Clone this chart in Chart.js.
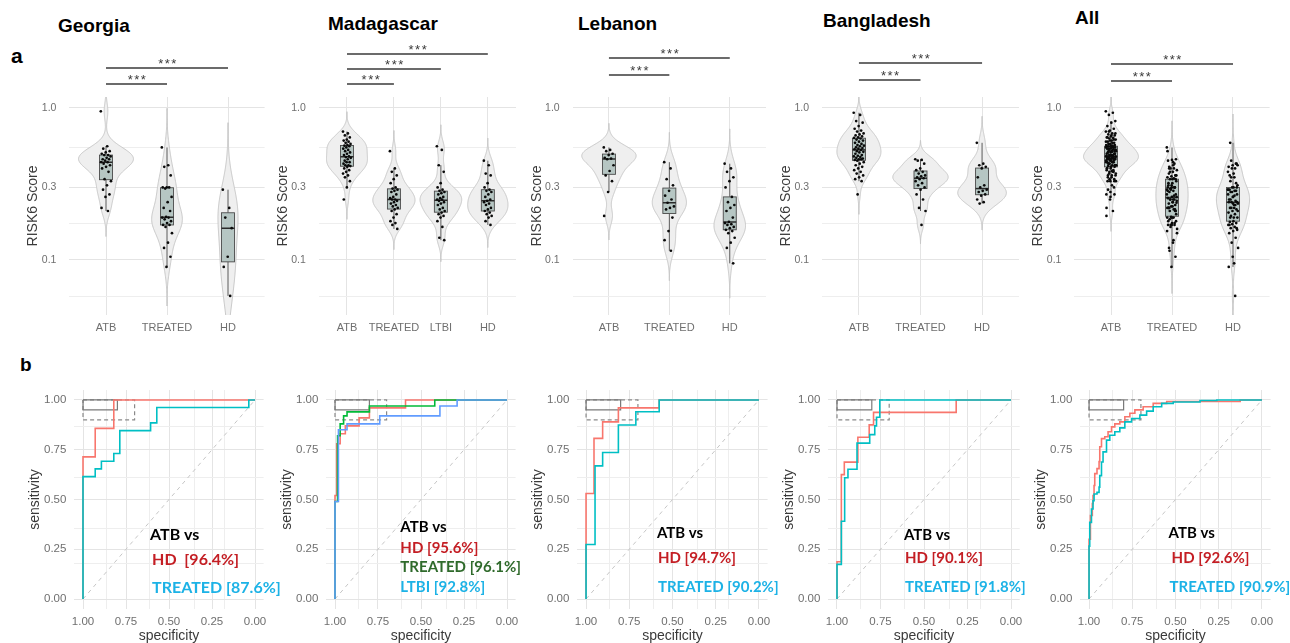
<!DOCTYPE html>
<html>
<head>
<meta charset="utf-8">
<title>RISK6 score by cohort and ROC curves</title>
<script src="https://cdn.jsdelivr.net/npm/chart.js@4.4.1/dist/chart.umd.min.js"></script>
<style>
  html, body { margin: 0; padding: 0; background: #fff; }
  body { position: relative; width: 1290px; height: 643px; overflow: hidden; font-family: "Liberation Sans", Arial, sans-serif; }
  canvas { position: absolute; }
  .tag { position: absolute; font-weight: bold; color: #000; line-height: 1; white-space: nowrap; }
</style>
</head>
<body>
<div class="tag" style="left:11px;top:45px;font-size:21px">a</div>
<div class="tag" style="left:20px;top:355px;font-size:19px">b</div>
<div class="tag" style="left:58px;top:16px;font-size:19px">Georgia</div>
<div class="tag" style="left:328px;top:14px;font-size:19px">Madagascar</div>
<div class="tag" style="left:578px;top:14px;font-size:19px">Lebanon</div>
<div class="tag" style="left:823px;top:11px;font-size:19px">Bangladesh</div>
<div class="tag" style="left:1075px;top:8px;font-size:19px">All</div>
<script>
// ---------- RISK6 scores, one value per participant ----------
const groupsThree = ['ATB', 'TREATED', 'HD'];
const groupsFour = ['ATB', 'TREATED', 'LTBI', 'HD'];

const georgiaATB = [0.95, 0.56, 0.54, 0.52, 0.51, 0.50, 0.49, 0.49, 0.48, 0.47, 0.46, 0.46, 0.45, 0.44, 0.44, 0.43, 0.42, 0.41, 0.40, 0.38, 0.34, 0.33, 0.31, 0.29, 0.27, 0.26, 0.22, 0.21];
const georgiaTREATED = [0.55, 0.42, 0.41, 0.36, 0.30, 0.30, 0.30, 0.295, 0.26, 0.24, 0.22, 0.21, 0.192, 0.19, 0.19, 0.185, 0.18, 0.175, 0.17, 0.17, 0.165, 0.15, 0.13, 0.12, 0.105, 0.09];
const georgiaHD = [0.29, 0.22, 0.19, 0.162, 0.105, 0.09, 0.058];

const madagascarATB = [0.70, 0.68, 0.66, 0.64, 0.62, 0.61, 0.60, 0.59, 0.58, 0.57, 0.565, 0.56, 0.55, 0.54, 0.53, 0.52, 0.51, 0.50, 0.49, 0.48, 0.475, 0.47, 0.46, 0.45, 0.44, 0.44, 0.43, 0.42, 0.42, 0.415, 0.41, 0.40, 0.39, 0.38, 0.37, 0.36, 0.35, 0.33, 0.30, 0.25];
const madagascarTREATED = [0.52, 0.40, 0.38, 0.36, 0.34, 0.32, 0.30, 0.295, 0.29, 0.285, 0.28, 0.27, 0.26, 0.255, 0.25, 0.25, 0.245, 0.24, 0.235, 0.23, 0.225, 0.22, 0.215, 0.21, 0.20, 0.19, 0.18, 0.175, 0.17, 0.16];
const madagascarLTBI = [0.56, 0.53, 0.42, 0.38, 0.32, 0.30, 0.29, 0.285, 0.28, 0.275, 0.27, 0.26, 0.255, 0.25, 0.25, 0.245, 0.24, 0.235, 0.23, 0.22, 0.215, 0.21, 0.205, 0.20, 0.195, 0.19, 0.18, 0.165, 0.14, 0.135];
const madagascarHD = [0.45, 0.42, 0.37, 0.36, 0.32, 0.30, 0.29, 0.285, 0.28, 0.27, 0.26, 0.25, 0.245, 0.24, 0.235, 0.23, 0.22, 0.215, 0.21, 0.205, 0.20, 0.195, 0.19, 0.18, 0.17];

const lebanonATB = [0.55, 0.53, 0.52, 0.50, 0.49, 0.47, 0.465, 0.46, 0.42, 0.385, 0.36, 0.33, 0.28, 0.195];
const lebanonTREATED = [0.44, 0.40, 0.34, 0.31, 0.285, 0.265, 0.25, 0.238, 0.225, 0.22, 0.215, 0.19, 0.155, 0.135, 0.115];
const lebanonHD = [0.43, 0.40, 0.38, 0.35, 0.33, 0.30, 0.26, 0.24, 0.23, 0.22, 0.21, 0.19, 0.178, 0.175, 0.172, 0.17, 0.165, 0.162, 0.158, 0.155, 0.15, 0.14, 0.13, 0.12, 0.095];

const bangladeshATB = [0.93, 0.90, 0.82, 0.80, 0.76, 0.73, 0.71, 0.70, 0.68, 0.67, 0.66, 0.65, 0.64, 0.635, 0.63, 0.62, 0.61, 0.60, 0.59, 0.58, 0.57, 0.565, 0.56, 0.55, 0.545, 0.54, 0.535, 0.53, 0.52, 0.515, 0.51, 0.50, 0.49, 0.485, 0.48, 0.475, 0.47, 0.465, 0.46, 0.455, 0.46, 0.45, 0.44, 0.43, 0.42, 0.41, 0.40, 0.39, 0.38, 0.37, 0.36, 0.35, 0.34, 0.33, 0.27];
const bangladeshTREATED = [0.46, 0.455, 0.45, 0.43, 0.40, 0.39, 0.38, 0.37, 0.36, 0.355, 0.35, 0.345, 0.34, 0.33, 0.32, 0.31, 0.30, 0.29, 0.27, 0.25, 0.22, 0.21, 0.17];
const bangladeshHD = [0.59, 0.43, 0.42, 0.41, 0.40, 0.35, 0.31, 0.30, 0.29, 0.285, 0.28, 0.27, 0.265, 0.25, 0.24, 0.235];

// pooled cohorts
const allATB = [].concat(georgiaATB, madagascarATB, lebanonATB, bangladeshATB);
const allTREATED = [].concat(georgiaTREATED, madagascarTREATED, lebanonTREATED, bangladeshTREATED);
const allHD = [].concat(georgiaHD, madagascarHD, lebanonHD, bangladeshHD);

const riskTicks = [0.1, 0.3, 1.0];

// ---------- ROC curves: corner points (specificity, sensitivity) ----------
const rocTicks = [0, 0.25, 0.5, 0.75, 1];
const tppOptimal = [0.80, 0.95];
const tppMinimal = [0.70, 0.90];

const georgiaHDSpec = [1, 1, 0.929, 0.821, 0];
const georgiaHDSens = [0, 0.714, 0.857, 1, 1];
const georgiaTREATEDSpec = [1, 1, 0.929, 0.893, 0.821, 0.786, 0.607, 0.571, 0.036, 0];
const georgiaTREATEDSens = [0, 0.615, 0.654, 0.692, 0.731, 0.846, 0.885, 0.962, 1, 1];

const madagascarHDSpec = [1, 1, 0.99, 0.97, 0.94, 0.86, 0.80, 0.59, 0];
const madagascarHDSens = [0, 0.52, 0.78, 0.83, 0.87, 0.91, 0.96, 1, 1];
const madagascarTREATEDSpec = [1, 1, 0.985, 0.97, 0.95, 0.93, 0.80, 0.42, 0];
const madagascarTREATEDSens = [0, 0.49, 0.82, 0.88, 0.92, 0.94, 0.97, 1, 1];
const madagascarLTBISpec = [1, 1, 0.98, 0.93, 0.74, 0.39, 0.29, 0];
const madagascarLTBISens = [0, 0.49, 0.85, 0.88, 0.92, 0.97, 1, 1];

const lebanonHDSpec = [1, 1, 0.954, 0.904, 0.813, 0.577, 0];
const lebanonHDSens = [0, 0.53, 0.807, 0.89, 0.96, 1, 1];
const lebanonTREATEDSpec = [1, 1, 0.948, 0.904, 0.813, 0.712, 0.577, 0];
const lebanonTREATEDSens = [0, 0.274, 0.669, 0.736, 0.874, 0.941, 1, 1];

const bangladeshHDSpec = [1, 1, 0.975, 0.958, 0.88, 0.815, 0.79, 0.315, 0];
const bangladeshHDSens = [0, 0.1875, 0.625, 0.6875, 0.8125, 0.875, 0.9375, 1, 1];
const bangladeshTREATEDSpec = [1, 1, 0.975, 0.956, 0.937, 0.885, 0.812, 0.783, 0.773, 0.754, 0];
const bangladeshTREATEDSens = [0, 0.174, 0.391, 0.609, 0.652, 0.783, 0.826, 0.870, 0.913, 1, 1];

const allHDSpec = [1, 1, 0.992, 0.981, 0.977, 0.971, 0.967, 0.954, 0.942, 0.938, 0.928, 0.909, 0.890, 0.870, 0.851, 0.822, 0.793, 0.764, 0.735, 0.687, 0.629, 0.551, 0.126, 0];
const allHDSens = [0, 0.30, 0.42, 0.48, 0.52, 0.57, 0.63, 0.655, 0.69, 0.765, 0.806, 0.815, 0.84, 0.865, 0.88, 0.89, 0.916, 0.933, 0.95, 0.966, 0.983, 0.992, 1, 1];
const allTREATEDSpec = [1, 1, 0.996, 0.986, 0.977, 0.971, 0.954, 0.942, 0.938, 0.928, 0.919, 0.899, 0.880, 0.851, 0.822, 0.793, 0.754, 0.706, 0.667, 0.629, 0.580, 0.513, 0.358, 0.261, 0];
const allTREATEDSens = [0, 0.266, 0.385, 0.452, 0.494, 0.528, 0.536, 0.562, 0.62, 0.688, 0.739, 0.798, 0.823, 0.84, 0.86, 0.89, 0.907, 0.924, 0.944, 0.966, 0.983, 0.99, 0.997, 1, 1];

const georgiaAUC = ['HD  [96.4%]', 'TREATED [87.6%]'];
const madagascarAUC = ['HD [95.6%]', 'TREATED [96.1%]', 'LTBI [92.8%]'];
const lebanonAUC = ['HD [94.7%]', 'TREATED [90.2%]'];
const bangladeshAUC = ['HD [90.1%]', 'TREATED [91.8%]'];
const allAUC = ['HD [92.6%]', 'TREATED [90.9%]'];

// ---------- shared styling ----------
const FONT = '"Liberation Sans", Arial, Helvetica, sans-serif';
const LABEL_FONT = 'Lato, "Open Sans", sans-serif';
const TICK_COLOR = '#6f6f6f';
const TITLE_COLOR = '#3a3a3a';
const GRID_MAJOR = '#e4e4e4';
const GRID_MINOR = '#eeeeee';
const RED = '#F8766D', CYAN = '#00BFC4', GREEN = '#00BA38', BLUE = '#619CFF';
const TXT_RED = '#C41E24', TXT_CYAN = '#1CB2E6', TXT_GREEN = '#2F6A2B', TXT_BLACK = '#000';

Chart.defaults.font.family = FONT;
Chart.defaults.animation = false;

function place(left, top, width, height) {
  const c = document.createElement('canvas');
  c.width = width; c.height = height;
  c.style.left = left + 'px'; c.style.top = top + 'px';
  c.style.width = width + 'px'; c.style.height = height + 'px';
  document.body.appendChild(c);
  return c;
}

function quantile(sorted, p) {
  const h = (sorted.length - 1) * p, lo = Math.floor(h), hi = Math.ceil(h);
  return sorted[lo] + (sorted[hi] - sorted[lo]) * (h - lo);
}

// box statistics and gaussian density, both on the log10 scale
function summarize(values) {
  const t = values.map(Math.log10).sort((a, b) => a - b);
  const n = t.length;
  const q1 = quantile(t, 0.25), med = quantile(t, 0.5), q3 = quantile(t, 0.75);
  const iqr = q3 - q1;
  const lo = t.find(v => v >= q1 - 1.5 * iqr);
  const hi = t.slice().reverse().find(v => v <= q3 + 1.5 * iqr);
  const mean = t.reduce((s, v) => s + v, 0) / n;
  const sd = Math.sqrt(t.reduce((s, v) => s + (v - mean) * (v - mean), 0) / (n - 1));
  const spread = Math.min(sd, iqr / 1.34) || sd;
  const bw = 0.9 * spread * Math.pow(n, -0.2);
  const from = t[0] - 3 * bw, to = t[n - 1] + 3 * bw;
  const grid = [], dens = [];
  for (let k = 0; k <= 240; k++) {
    const g = from + (to - from) * k / 240;
    let d = 0;
    for (const v of t) { const z = (g - v) / bw; d += Math.exp(-0.5 * z * z); }
    grid.push(g);
    dens.push(d / (n * bw * Math.sqrt(2 * Math.PI)));
  }
  return { q1, med, q3, lo, hi, grid, dens, peak: Math.max(...dens) };
}

// spread of the dots around each category centre
const jitter = i => (((i * 0.6180339887) % 1) - 0.5) * 0.17;

function minorBetween(majors) {
  const out = [majors[0] / Math.sqrt(majors[1] / majors[0])];
  for (let i = 0; i < majors.length - 1; i++) out.push(Math.sqrt(majors[i] * majors[i + 1]));
  return out;
}

function isMajor(list, v) { return list.some(t => Math.abs(t - v) < 1e-9); }

// ---------- violin + box + jitter panels ----------
function violinChart(area, cats, groups, brackets) {
  const top = 0, height = 340, areaTop = 97, areaBottom = 315;
  const cl = Math.round(area[0] - 50);
  const width = Math.round(area[1] + 4 - cl);
  const canvas = place(cl, top, width, height);
  const stats = groups.map(summarize);
  const peak = Math.max(...stats.map(s => s.peak));
  const points = [];
  groups.forEach((vals, g) => vals.forEach((v, i) => points.push({ x: g + 1 + jitter(i), y: v })));
  const yTicks = minorBetween(riskTicks).concat(riskTicks).sort((a, b) => a - b);

  const layer = {
    id: 'violinLayer',
    beforeDatasetsDraw(chart) {
      const { ctx, chartArea: a, scales: { x, y } } = chart;
      const unit = Math.abs(x.getPixelForValue(2) - x.getPixelForValue(1));
      ctx.save();
      ctx.beginPath();
      ctx.rect(a.left, a.top, a.right - a.left, a.bottom - a.top);
      ctx.clip();
      stats.forEach((s, i) => {
        const cx = x.getPixelForValue(i + 1);
        ctx.beginPath();
        s.grid.forEach((g, k) => {
          const px = cx + s.dens[k] / peak * 0.45 * unit;
          const py = y.getPixelForValue(Math.pow(10, g));
          if (k === 0) ctx.moveTo(px, py); else ctx.lineTo(px, py);
        });
        for (let k = s.grid.length - 1; k >= 0; k--) {
          ctx.lineTo(cx - s.dens[k] / peak * 0.45 * unit, y.getPixelForValue(Math.pow(10, s.grid[k])));
        }
        ctx.closePath();
        ctx.fillStyle = '#efefef';
        ctx.fill();
        ctx.strokeStyle = '#c6c6c6';
        ctx.lineWidth = 1;
        ctx.stroke();
      });
      stats.forEach((s, i) => {
        const cx = x.getPixelForValue(i + 1);
        const half = 6.5;
        const p = v => y.getPixelForValue(Math.pow(10, v));
        ctx.strokeStyle = '#4a4a4a';
        ctx.lineWidth = 0.9;
        ctx.beginPath();
        ctx.moveTo(cx, p(s.hi)); ctx.lineTo(cx, p(s.q3));
        ctx.moveTo(cx, p(s.q1)); ctx.lineTo(cx, p(s.lo));
        ctx.stroke();
        ctx.fillStyle = '#b6c6c3';
        ctx.fillRect(cx - half, p(s.q3), 2 * half, p(s.q1) - p(s.q3));
        ctx.strokeRect(cx - half, p(s.q3), 2 * half, p(s.q1) - p(s.q3));
        ctx.strokeStyle = '#2a2a2a';
        ctx.lineWidth = 1.5;
        ctx.beginPath();
        ctx.moveTo(cx - half, p(s.med)); ctx.lineTo(cx + half, p(s.med));
        ctx.stroke();
      });
      ctx.restore();
    },
    afterDraw(chart) {
      const { ctx, scales: { x } } = chart;
      ctx.save();
      ctx.strokeStyle = '#3a3a3a';
      ctx.fillStyle = '#3a3a3a';
      ctx.lineWidth = 1.3;
      ctx.font = '13px ' + FONT;
      ctx.textAlign = 'center';
      ctx.textBaseline = 'alphabetic';
      if ('letterSpacing' in ctx) ctx.letterSpacing = '1.5px';
      brackets.forEach(b => {
        const x1 = x.getPixelForValue(b.from), x2 = x.getPixelForValue(b.to);
        const yy = b.y - top;
        ctx.beginPath(); ctx.moveTo(x1, yy); ctx.lineTo(x2, yy); ctx.stroke();
        ctx.fillText(b.label, (x1 + x2) / 2 + 1, yy - 0.5);
      });
      ctx.restore();
    }
  };

  new Chart(canvas, {
    type: 'scatter',
    data: { datasets: [{ data: points, pointRadius: 1.35, pointBorderWidth: 0, pointBackgroundColor: '#0a0a0a' }] },
    options: {
      responsive: false,
      events: [],
      layout: { padding: { top: areaTop - top, right: cl + width - area[1], left: 0, bottom: 0 } },
      plugins: { legend: { display: false }, tooltip: { enabled: false } },
      scales: {
        x: {
          type: 'linear', min: 0.4, max: cats.length + 0.6,
          afterBuildTicks: s => { s.ticks = cats.map((c, i) => ({ value: i + 1 })); },
          ticks: { autoSkip: false, maxRotation: 0, padding: 6, color: TICK_COLOR, font: { size: 11 },
                   callback: v => cats[Math.round(v) - 1] },
          grid: { color: GRID_MAJOR, lineWidth: 1, drawTicks: false },
          border: { display: false },
          afterFit: s => { s.height = top + height - areaBottom; s.paddingLeft = 0; s.paddingRight = 0; }
        },
        y: {
          type: 'logarithmic', min: 0.04345, max: 1.181,
          afterBuildTicks: s => { s.ticks = yTicks.map(v => ({ value: v })); },
          ticks: { autoSkip: false, padding: 13, color: TICK_COLOR, font: { size: 10.5 },
                   callback: v => isMajor(riskTicks, v) ? v.toFixed(1) : '' },
          grid: { drawTicks: false, lineWidth: 1,
                  color: c => (c.tick && isMajor(riskTicks, c.tick.value)) ? GRID_MAJOR : GRID_MINOR },
          border: { display: false },
          title: { display: true, text: 'RISK6 Score', color: TITLE_COLOR, font: { size: 14 }, padding: { top: 5.6, bottom: 0 } },
          afterFit: s => { s.width = area[0] - cl; s.paddingTop = 0; s.paddingBottom = 0; }
        }
      }
    },
    plugins: [layer]
  });
}

// ---------- ROC panels ----------
function rectPoints(corner) {
  const [s, t] = corner;
  return [{ x: 1, y: 1 }, { x: s, y: 1 }, { x: s, y: t }, { x: 1, y: t }, { x: 1, y: 1 }];
}

function rocChart(area, curves, labels, anchor, gaps, fontPx) {
  const top = 370, height = 276, areaTop = 390, areaBottom = 609;
  const cl = Math.round(area[0] - 60);
  const width = Math.round(area[1] + 22 - cl);
  const canvas = place(cl, top, width, height);
  const gridVals = minorBetween([0.25, 0.5, 0.75, 1]).slice(0).concat(rocTicks);
  const datasets = curves.map((c, i) => ({
    data: c.spec.map((s, k) => ({ x: s, y: c.sens[k] })),
    showLine: true, stepped: true, borderColor: c.color, borderWidth: 1.6,
    pointRadius: 0, fill: false, order: curves.length - i
  }));
  datasets.push({ data: rectPoints(tppOptimal), showLine: true, borderColor: '#7a7a7a', borderWidth: 1.2, pointRadius: 0, order: 20 });
  datasets.push({ data: rectPoints(tppMinimal), showLine: true, borderColor: '#8a8a8a', borderWidth: 1.2, borderDash: [4, 3], pointRadius: 0, order: 21 });
  datasets.push({ data: [{ x: 1, y: 0 }, { x: 0, y: 1 }], showLine: true, borderColor: '#c6c6c6', borderWidth: 1, borderDash: [4, 4], pointRadius: 0, order: 30 });

  const legend = {
    id: 'aucLegend',
    afterDatasetsDraw(chart) {
      const { ctx, scales: { x, y } } = chart;
      const px = x.getPixelForValue(anchor[0]), py = y.getPixelForValue(anchor[1]);
      ctx.save();
      ctx.font = 'bold ' + fontPx + 'px ' + LABEL_FONT;
      ctx.textAlign = 'left';
      ctx.textBaseline = 'middle';
      labels.forEach((l, i) => {
        ctx.fillStyle = l.color;
        ctx.fillText(l.text, px + (l.dx || 0), py + gaps[i]);
      });
      ctx.restore();
    }
  };

  new Chart(canvas, {
    type: 'scatter',
    data: { datasets },
    options: {
      responsive: false,
      events: [],
      layout: { padding: { top: areaTop - top, right: cl + width - area[1], left: 0, bottom: 0 } },
      plugins: { legend: { display: false }, tooltip: { enabled: false } },
      scales: {
        x: {
          type: 'linear', reverse: true, min: -0.05, max: 1.05,
          afterBuildTicks: s => { s.ticks = gridVals.map(v => ({ value: v })); },
          ticks: { autoSkip: false, maxRotation: 0, padding: 6, color: TICK_COLOR, font: { size: 11.5 },
                   callback: v => isMajor(rocTicks, v) ? v.toFixed(2) : '' },
          grid: { drawTicks: false, lineWidth: 1,
                  color: c => (c.tick && isMajor(rocTicks, c.tick.value)) ? GRID_MAJOR : GRID_MINOR },
          border: { display: false },
          title: { display: true, text: 'specificity', color: TITLE_COLOR, font: { size: 14 }, padding: { top: 0, bottom: 1.5 } },
          afterFit: s => { s.height = top + height - areaBottom; s.paddingLeft = 0; s.paddingRight = 0; }
        },
        y: {
          type: 'linear', min: -0.05, max: 1.05,
          afterBuildTicks: s => { s.ticks = gridVals.map(v => ({ value: v })); },
          ticks: { autoSkip: false, padding: 8, color: TICK_COLOR, font: { size: 11.5 },
                   callback: v => isMajor(rocTicks, v) ? v.toFixed(2) : '' },
          grid: { drawTicks: false, lineWidth: 1,
                  color: c => (c.tick && isMajor(rocTicks, c.tick.value)) ? GRID_MAJOR : GRID_MINOR },
          border: { display: false },
          title: { display: true, text: 'sensitivity', color: TITLE_COLOR, font: { size: 14 }, padding: { top: 12.6, bottom: 0 } },
          afterFit: s => { s.width = area[0] - cl; s.paddingTop = 0; s.paddingBottom = 0; }
        }
      }
    },
    plugins: [legend]
  });
}

// ---------- top row: RISK6 score distributions ----------
violinChart([69.4, 264.6], groupsThree, [georgiaATB, georgiaTREATED, georgiaHD],
  [{ from: 1, to: 2, y: 84, label: '***' }, { from: 1, to: 3, y: 68, label: '***' }]);
violinChart([318.8, 516.2], groupsFour, [madagascarATB, madagascarTREATED, madagascarLTBI, madagascarHD],
  [{ from: 1, to: 2, y: 84, label: '***' }, { from: 1, to: 3, y: 69, label: '***' }, { from: 1, to: 4, y: 54, label: '***' }]);
violinChart([572.7, 766.3], groupsThree, [lebanonATB, lebanonTREATED, lebanonHD],
  [{ from: 1, to: 2, y: 75, label: '***' }, { from: 1, to: 3, y: 58, label: '***' }]);
violinChart([822, 1019], groupsThree, [bangladeshATB, bangladeshTREATED, bangladeshHD],
  [{ from: 1, to: 2, y: 80, label: '***' }, { from: 1, to: 3, y: 63, label: '***' }]);
violinChart([1074.4, 1269.6], groupsThree, [allATB, allTREATED, allHD],
  [{ from: 1, to: 2, y: 81, label: '***' }, { from: 1, to: 3, y: 64, label: '***' }]);

// ---------- bottom row: ROC curves, ATB against each group ----------
rocChart([74.4, 263.6],
  [{ spec: georgiaHDSpec, sens: georgiaHDSens, color: RED }, { spec: georgiaTREATEDSpec, sens: georgiaTREATEDSens, color: CYAN }],
  [{ text: 'ATB vs', color: TXT_BLACK }, { text: georgiaAUC[0], color: TXT_RED, dx: 2 }, { text: georgiaAUC[1], color: TXT_CYAN, dx: 2 }],
  [0.61, 0.32], [0, 25, 53], 16);
rocChart([326.4, 515.6],
  [{ spec: madagascarHDSpec, sens: madagascarHDSens, color: RED }, { spec: madagascarTREATEDSpec, sens: madagascarTREATEDSens, color: GREEN },
   { spec: madagascarLTBISpec, sens: madagascarLTBISens, color: BLUE }],
  [{ text: 'ATB vs', color: TXT_BLACK }, { text: madagascarAUC[0], color: TXT_RED }, { text: madagascarAUC[1], color: TXT_GREEN }, { text: madagascarAUC[2], color: TXT_CYAN }],
  [0.62, 0.36], [0, 21, 40, 60], 15);
rocChart([577.4, 767.6],
  [{ spec: lebanonHDSpec, sens: lebanonHDSens, color: RED }, { spec: lebanonTREATEDSpec, sens: lebanonTREATEDSens, color: CYAN }],
  [{ text: 'ATB vs', color: TXT_BLACK }, { text: lebanonAUC[0], color: TXT_RED, dx: 1 }, { text: lebanonAUC[1], color: TXT_CYAN, dx: 1 }],
  [0.59, 0.33], [0, 25, 54], 15);
rocChart([828.3, 1019.7],
  [{ spec: bangladeshHDSpec, sens: bangladeshHDSens, color: RED }, { spec: bangladeshTREATEDSpec, sens: bangladeshTREATEDSens, color: CYAN }],
  [{ text: 'ATB vs', color: TXT_BLACK }, { text: bangladeshAUC[0], color: TXT_RED, dx: 1 }, { text: bangladeshAUC[1], color: TXT_CYAN, dx: 1 }],
  [0.615, 0.32], [0, 23, 52], 15);
rocChart([1080.4, 1270.6],
  [{ spec: allHDSpec, sens: allHDSens, color: RED }, { spec: allTREATEDSpec, sens: allTREATEDSens, color: CYAN }],
  [{ text: 'ATB vs', color: TXT_BLACK }, { text: allAUC[0], color: TXT_RED, dx: 3 }, { text: allAUC[1], color: TXT_CYAN, dx: 1 }],
  [0.54, 0.33], [0, 25, 54], 15);
</script>
</body>
</html>
